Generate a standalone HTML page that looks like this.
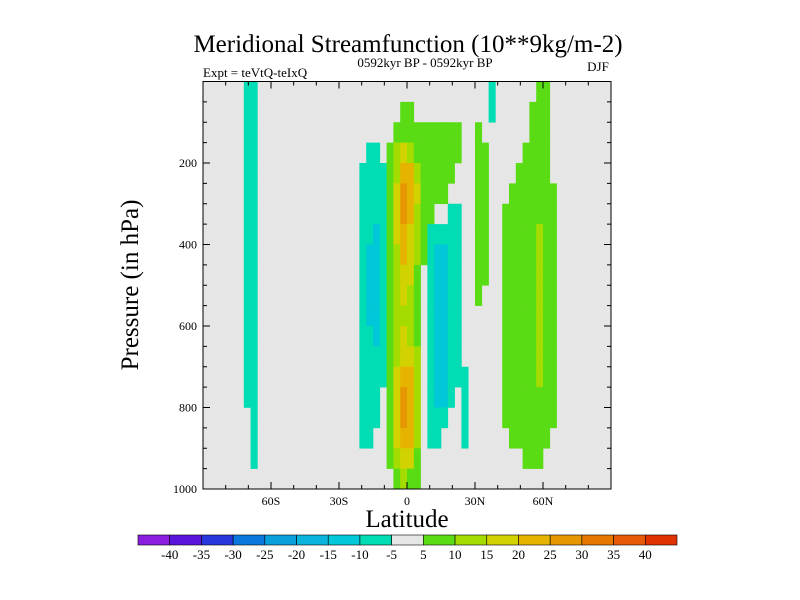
<!DOCTYPE html>
<html><head><meta charset="utf-8"><style>
body{margin:0;background:#fff;}
svg{display:block;font-family:"Liberation Serif",serif;}
</style></head><body>
<svg id="chart" width="800" height="600" viewBox="0 0 800 600">
<text x="408" y="52" font-size="25" text-anchor="middle">Meridional Streamfunction (10**9kg/m-2)</text>
<text x="203" y="77" font-size="13">Expt = teVtQ-teIxQ</text>
<text x="425" y="67" font-size="13" text-anchor="middle">0592kyr BP - 0592kyr BP</text>
<text x="598" y="71" font-size="13" text-anchor="middle">DJF</text>
<text transform="translate(138,285) rotate(-90)" font-size="25" text-anchor="middle">Pressure (in hPa)</text>
<text x="407" y="527" font-size="25" text-anchor="middle">Latitude</text>
<g id="cells"></g><g id="axes"></g><g id="cbar"></g>
</svg>
<script>
const latEdgesStart = -90, latStep = 3;
const pStep = 50;
const yTicks = [200,400,600,800,1000];
const xTicks = [-60,-30,0,30,60];
const xTickLabels = ["60S","30S","0","30N","60N"];
const cbarLabels = [-40,-35,-30,-25,-20,-15,-10,-5,5,10,15,20,25,30,35,40];
const cbarColors = ["#8c1ee0","#5a14dc","#2837dc","#0a78dc","#0aa0dc","#0ab4dc","#00c8d8","#00dcb4","#e6e6e6","#5adc14","#a5dc00","#d2d200","#e6b400","#e69600","#e67800","#e65a0a","#e03200"];
const Z6=[0,0,0,0,0,0],Z15=Array(15).fill(0),Z8=Array(8).fill(0);
function row(a,b,c,d,e,f,g,h,i,j){return [...Z6,...a,...Z15,...b,...c,...d,e,...f,g,h,...i,...Z8];}
const field = [
row([-7,-7],[0,0,0,0],[0,0,0,0,0,0],[0,0,0,0,0,0],0,[0,0],-7,0,[0,0,0,0,0,7,7,0]),
row([-7,-7],[0,0,0,0],[0,0,7,7,0,0],[0,0,0,0,0,0],0,[0,0],-7,0,[0,0,0,0,7,7,7,0]),
row([-7,-7],[0,0,0,0],[0,7,7,7,7,7],[7,7,7,7,7,0],0,[7,0],0,0,[0,0,0,0,7,7,7,0]),
row([-7,-7],[0,-7,-7,0],[7,12,17,12,7,7],[7,7,7,7,7,0],0,[7,7],0,0,[0,0,0,7,7,7,7,0]),
row([-7,-7],[-7,-7,-7,-7],[7,12,22,22,12,7],[7,7,7,7,0,0],0,[7,7],0,0,[0,0,7,7,7,7,7,0]),
row([-7,-7],[-7,-7,-7,-7],[7,17,27,22,17,7],[7,7,7,0,0,0],0,[7,7],0,0,[0,7,7,7,7,7,7,7]),
row([-7,-7],[-7,-7,-7,-7],[7,17,27,22,12,7],[7,0,0,-7,-7,0],0,[7,7],0,0,[7,7,7,7,7,7,7,7]),
row([-7,-7],[-7,-7,-12,-7],[7,17,22,17,12,7],[-7,-7,-7,-7,-7,0],0,[7,7],0,0,[7,7,7,7,7,12,7,7]),
row([-7,-7],[-7,-12,-12,-7],[7,12,22,17,12,7],[-7,-12,-12,-7,-7,0],0,[7,7],0,0,[7,7,7,7,7,12,7,7]),
row([-7,-7],[-7,-12,-12,-7],[7,12,17,17,7,0],[-7,-12,-12,-7,-7,0],0,[7,7],0,0,[7,7,7,7,7,12,7,7]),
row([-7,-7],[-7,-12,-12,-7],[7,12,17,12,7,0],[-7,-12,-12,-7,-7,0],0,[7,0],0,0,[7,7,7,7,7,12,7,7]),
row([-7,-7],[-7,-12,-12,-7],[7,12,12,12,7,0],[-7,-12,-12,-7,-7,0],0,[0,0],0,0,[7,7,7,7,7,12,7,7]),
row([-7,-7],[-7,-7,-12,-7],[7,12,17,12,7,0],[-7,-12,-12,-7,-7,0],0,[0,0],0,0,[7,7,7,7,7,12,7,7]),
row([-7,-7],[-7,-7,-7,-7],[7,12,17,17,12,0],[-7,-12,-12,-7,-7,0],0,[0,0],0,0,[7,7,7,7,7,12,7,7]),
row([-7,-7],[-7,-7,-7,-7],[7,17,22,22,12,0],[-7,-12,-12,-7,-7,-7],0,[0,0],0,0,[7,7,7,7,7,12,7,7]),
row([-7,-7],[-7,-7,-7,0],[7,17,27,22,12,0],[-7,-12,-12,-7,0,-7],0,[0,0],0,0,[7,7,7,7,7,7,7,7]),
row([0,-7],[-7,-7,-7,0],[7,17,27,22,12,0],[-7,-7,-7,0,0,-7],0,[0,0],0,0,[7,7,7,7,7,7,7,7]),
row([0,-7],[-7,-7,0,0],[7,17,22,22,12,0],[-7,-7,0,0,0,-7],0,[0,0],0,0,[0,7,7,7,7,7,7,0]),
row([0,-7],[0,0,0,0],[7,12,17,17,7,0],[0,0,0,0,0,0],0,[0,0],0,0,[0,0,0,7,7,7,0,0]),
row([0,0],[0,0,0,0],[0,7,12,7,7,0],[0,0,0,0,0,0],0,[0,0],0,0,[0,0,0,0,0,0,0,0])
];
const NS="http://www.w3.org/2000/svg";
const X0=203,X1=611,Y0=81.5,Y1=489;
const xs=lat=>X0+(lat+90)/180*(X1-X0);
const ys=p=>Y0+p/1000*(Y1-Y0);
function color(v){let k;
  if(v<=-5)k=Math.floor((v+45)/5);
  else if(v>=5)k=Math.floor((v-5)/5)+9;
  else k=8;
  k=Math.max(0,Math.min(cbarColors.length-1,k));return cbarColors[k];}
const cells=document.getElementById('cells');
const bg=document.createElementNS(NS,'rect');


bg.setAttribute('x',X0);bg.setAttribute('y',Y0);bg.setAttribute('width',X1-X0);bg.setAttribute('height',Y1-Y0);bg.setAttribute('fill','#e6e6e6');
cells.appendChild(bg);
field.forEach((r,ri)=>r.forEach((v,ci)=>{
  if(v===0)return;
  const la=latEdgesStart+ci*latStep, p=ri*pStep;
  const c=document.createElementNS(NS,'rect');
  
  
  c.setAttribute('x',xs(la));c.setAttribute('y',ys(p));
  c.setAttribute('width',xs(la+latStep)-xs(la)+0.3);c.setAttribute('height',ys(p+pStep)-ys(p)+0.3);
  c.setAttribute('fill',color(v));
  cells.appendChild(c);
}));
const ax=document.getElementById('axes');
function line(x1,y1,x2,y2,w,name){const l=document.createElementNS(NS,'line');


l.setAttribute('x1',x1);l.setAttribute('y1',y1);l.setAttribute('x2',x2);l.setAttribute('y2',y2);l.setAttribute('stroke','#000');l.setAttribute('stroke-width',w);ax.appendChild(l);}
function text(x,y,s,anchor,size,name){const t=document.createElementNS(NS,'text');


t.setAttribute('x',x);t.setAttribute('y',y);t.setAttribute('text-anchor',anchor);t.setAttribute('font-size',size);t.textContent=s;ax.appendChild(t);return t;}
const fr=document.createElementNS(NS,'rect');


fr.setAttribute('x',X0);fr.setAttribute('y',Y0);fr.setAttribute('width',X1-X0);fr.setAttribute('height',Y1-Y0);fr.setAttribute('fill','none');fr.setAttribute('stroke','#000');fr.setAttribute('stroke-width',1);ax.appendChild(fr);
for(let p=50;p<1000;p+=50){const maj=yTicks.includes(p);const L=maj?7:4;
line(X0,ys(p),X0+L,ys(p),1,'y-tick');line(X1,ys(p),X1-L,ys(p),1,'y-tick');}
yTicks.forEach(p=>text(X0-6,ys(p)+4,String(p),'end',12,'y-tick-label'));
for(let la=-80;la<=80;la+=10){const maj=xTicks.includes(la);const L=maj?7:4;
line(xs(la),Y1,xs(la),Y1-L,1,'x-tick');line(xs(la),Y0,xs(la),Y0+L,1,'x-tick');}
xTicks.forEach((la,i)=>text(xs(la),Y1+16,xTickLabels[i],'middle',12,'x-tick-label'));
const cb=document.getElementById('cbar');
const CB0=138,CB1=677,CBY=535,CBH=10,bw=(CB1-CB0)/cbarColors.length;
cbarColors.forEach((c,i)=>{const r=document.createElementNS(NS,'rect');


r.setAttribute('x',CB0+i*bw);r.setAttribute('y',CBY);r.setAttribute('width',bw);r.setAttribute('height',CBH);r.setAttribute('fill',c);r.setAttribute('stroke','#000');r.setAttribute('stroke-width',0.6);cb.appendChild(r);});
cbarLabels.forEach((v,i)=>{const t=document.createElementNS(NS,'text');


t.setAttribute('x',CB0+(i+1)*bw);t.setAttribute('y',CBY+CBH+14);t.setAttribute('text-anchor','middle');t.setAttribute('font-size',13);t.textContent=String(v);cb.appendChild(t);});
</script>
</body></html>
